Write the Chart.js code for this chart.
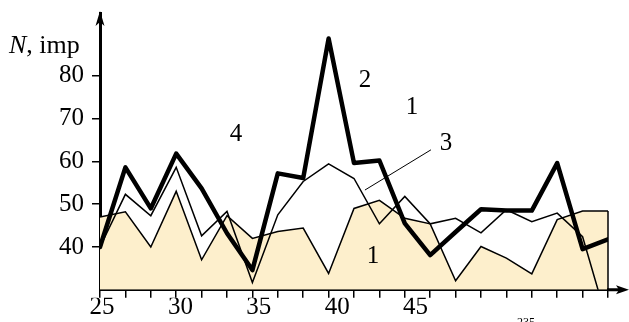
<!DOCTYPE html>
<html>
<head>
<meta charset="utf-8">
<script src="https://cdn.jsdelivr.net/npm/chart.js@4/dist/chart.umd.min.js"></script>
<style>
  html, body { margin: 0; padding: 0; background: #fff; }
  canvas { display: block; }
</style>
</head>
<body>
<canvas id="chart" width="629" height="322"></canvas>
<script>
// Measurement steps along the horizontal axis
const steps = [0, 1, 2, 3, 4, 5, 6, 7, 8, 9, 10, 11, 12, 13, 14, 15, 16, 17, 18, 19, 20];

// Curve 1 (shaded), curve 2 (heavy line), curve 3 (thin line), N in imp
const curve1 = [47, 48.2, 40, 53, 37, 47.3, 42, 43.6, 44.4, 33.8, 49, 50.9, 46.7, 45.4, 32.1, 40.1, 37.4, 33.7, 46.4, 48.4, 48.4];
const curve2 = [40, 58.6, 49, 61.8, 53.7, 43.2, 34.6, 57.2, 56.1, 88.7, 59.6, 60.2, 45.5, 38.1, 43.5, 48.8, 48.5, 48.5, 59.6, 39.5, 41.8];
const curve3 = [40, 52.3, 47.3, 58.6, 42.6, 48.3, 31.7, 47.5, 55.3, 59.4, 56, 45.4, 51.8, 45.4, 46.7, 43.3, 48.7, 45.9, 47.9, 42.4, 22];

// Axis labels
const xTickLabels = [25, 30, 35, 40, 45];
const yTickLabels = [40, 50, 60, 70, 80];

const SERIF = '"Liberation Serif", "Times New Roman", serif';

function pts(values) {
  return steps.map((s, i) => ({ x: s, y: values[i] }));
}

// Curve numbers and region mark, placed in data units
const annotations = [
  { text: '2', x: 10.43, y: 78.8 },
  { text: '1', x: 12.28, y: 72.7 },
  { text: '3', x: 13.62, y: 64.3 },
  { text: '4', x: 5.35, y: 66.2 },
  { text: '1', x: 10.75, y: 37.7 }
];
const leader = { x0: 10.43, y0: 53.3, x1: 13.03, y1: 62.7 };

const decorations = {
  id: 'decorations',
  afterDraw(chart) {
    const { ctx, chartArea: a, scales } = chart;
    const x = scales.x, y = scales.y;
    ctx.save();
    ctx.strokeStyle = '#000';
    ctx.fillStyle = '#000';

    // closing edge of the shaded region
    const ex = x.getPixelForValue(steps[steps.length - 1]);
    const ey = y.getPixelForValue(curve1[curve1.length - 1]);
    ctx.lineWidth = 1.5;
    ctx.beginPath();
    ctx.moveTo(ex, ey);
    ctx.lineTo(ex, a.bottom);
    ctx.stroke();

    // horizontal axis continuation with arrow
    ctx.lineWidth = 3;
    ctx.beginPath();
    ctx.moveTo(a.right - 1, a.bottom);
    ctx.lineTo(622, a.bottom);
    ctx.stroke();
    ctx.beginPath();
    ctx.moveTo(629, a.bottom);
    ctx.lineTo(616, a.bottom - 4.5);
    ctx.lineTo(619, a.bottom);
    ctx.lineTo(616, a.bottom + 4.5);
    ctx.closePath();
    ctx.fill();

    // vertical axis arrow
    ctx.beginPath();
    ctx.moveTo(a.left, 11);
    ctx.lineTo(a.left - 4.5, 26);
    ctx.lineTo(a.left, 22);
    ctx.lineTo(a.left + 4.5, 26);
    ctx.closePath();
    ctx.fill();

    // axis title: N, imp
    ctx.textBaseline = 'alphabetic';
    ctx.textAlign = 'left';
    ctx.font = 'italic 26px ' + SERIF;
    ctx.fillText('N', 9, 53);
    const nw = ctx.measureText('N').width;
    ctx.font = '26px ' + SERIF;
    ctx.fillText(', imp', 9 + nw, 53);

    // curve numbers
    ctx.textAlign = 'center';
    ctx.textBaseline = 'middle';
    ctx.font = '25px ' + SERIF;
    annotations.forEach(t => {
      ctx.fillText(t.text, x.getPixelForValue(t.x), y.getPixelForValue(t.y));
    });

    // leader line for curve 3
    ctx.lineWidth = 1;
    ctx.beginPath();
    ctx.moveTo(x.getPixelForValue(leader.x0), y.getPixelForValue(leader.y0));
    ctx.lineTo(x.getPixelForValue(leader.x1), y.getPixelForValue(leader.y1));
    ctx.stroke();

    // fragment of the caption line below
    ctx.textAlign = 'left';
    ctx.textBaseline = 'top';
    ctx.font = '12px ' + SERIF;
    ctx.fillText('235', 517, 317);
    ctx.restore();
  }
};

new Chart(document.getElementById('chart'), {
  type: 'line',
  data: {
    datasets: [
      {
        label: '2', data: pts(curve2), borderColor: '#000', borderWidth: 4.5,
        pointRadius: 0, fill: false, tension: 0, order: 0,
        borderJoinStyle: 'round', borderCapStyle: 'round'
      },
      {
        label: '3', data: pts(curve3), borderColor: '#000', borderWidth: 1.5,
        pointRadius: 0, fill: false, tension: 0, order: 1
      },
      {
        label: '1', data: pts(curve1), borderColor: '#000', borderWidth: 1.5,
        pointRadius: 0, fill: 'start', backgroundColor: '#fdefcc', tension: 0, order: 2
      }
    ]
  },
  options: {
    responsive: false,
    animation: false,
    layout: { padding: { top: 13, right: 21, left: 0, bottom: 0 } },
    plugins: { legend: { display: false }, tooltip: { enabled: false } },
    scales: {
      x: {
        type: 'linear', position: 'bottom', weight: 0, min: 0, max: 20,
        afterBuildTicks(s) { s.ticks = steps.map(v => ({ value: v })); },
        afterFit(s) { s.height = 8; s.paddingLeft = 0; s.paddingRight = 0; },
        ticks: { display: false },
        grid: { drawOnChartArea: false, drawTicks: true, tickLength: 8, color: '#000', lineWidth: 1.5 },
        border: { display: true, color: '#000', width: 3 }
      },
      xl: {
        type: 'linear', position: 'bottom', weight: 1, min: 24.87, max: 57.27,
        afterBuildTicks(s) { s.ticks = xTickLabels.map(v => ({ value: v })); },
        afterFit(s) { s.height = 24.25; s.paddingLeft = 0; s.paddingRight = 0; },
        ticks: {
          color: '#000', font: { family: SERIF, size: 25 }, padding: -5,
          maxRotation: 0, autoSkip: false, callback: v => String(v)
        },
        grid: { display: false, drawTicks: false },
        border: { display: false }
      },
      y: {
        type: 'linear', min: 30, max: 94.67,
        afterBuildTicks(s) { s.ticks = yTickLabels.map(v => ({ value: v })); },
        afterFit(s) { s.width = 100; s.paddingTop = 0; s.paddingBottom = 0; },
        ticks: { color: '#000', font: { family: SERIF, size: 25 }, padding: 8, callback: v => String(v) },
        grid: { drawOnChartArea: false, drawTicks: true, tickLength: 8, color: '#000', lineWidth: 1.5 },
        border: { display: true, color: '#000', width: 3 }
      }
    }
  },
  plugins: [decorations]
});
</script>
</body>
</html>
